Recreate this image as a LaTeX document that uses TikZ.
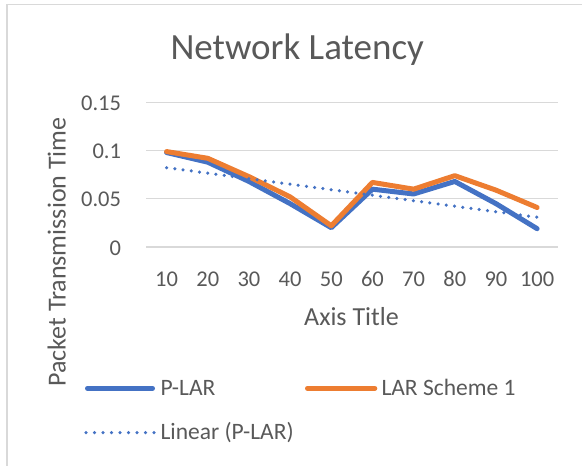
\documentclass[tikz,border=0pt]{standalone}
\usepackage{fontspec}
\setmainfont{Carlito}
\definecolor{labelgray}{HTML}{595959}
\definecolor{gridgray}{HTML}{D9D9D9}
\definecolor{plarblue}{HTML}{4472C4}
\definecolor{larorange}{HTML}{ED7D31}
\begin{document}
\begin{tikzpicture}[x=1pt,y=-1pt,
  txt/.style={text=labelgray, inner sep=0pt, outer sep=0pt},
  gridline/.style={draw=gridgray, line width=1.3pt},
  framel/.style={draw=gridgray},
  pseries/.style={draw=plarblue, line width=5pt, line cap=round, line join=round},
  lseries/.style={draw=larorange, line width=5pt, line cap=round, line join=round},
  trend/.style={draw=plarblue, line width=3.5pt, line cap=round, dash pattern=on 0pt off 8.3pt},
  ticklbl/.style={txt, font=\fontsize{22.5}{27}\selectfont},
  legendlbl/.style={txt, font=\fontsize{23.5}{28}\selectfont},
]
\useasboundingbox (0,0) rectangle (582,466);
\fill[white] (0,0) rectangle (582,466);

% chart frame (left and top edges)
\coordinate (frameTL) at (6.7,4.3);
\coordinate (frameBL) at (6.7,470);
\coordinate (frameTR) at (585,4.3);
\draw[framel, line width=2pt] (frameTL) -- (frameBL);
\draw[framel, line width=1.2pt] (frameTL) -- (frameTR);

% title
\node[txt, font=\fontsize{37}{44}\selectfont, anchor=base] (title) at (297.2,59) {Network Latency};

% horizontal gridlines and value labels
\foreach \v/\lbl [count=\k] in {0/0, 5/0.05, 10/0.1, 15/0.15} {
  \coordinate (gl\k) at (146,{247-9.64*\v});
  \coordinate (gr\k) at (557.7,{247-9.64*\v});
  \draw[gridline] (gl\k) -- (gr\k);
  \node[ticklbl, anchor=base east] (yl\k) at (121,{247-9.64*\v+8}) {\lbl};
}

% category labels
\foreach \lbl [count=\i] in {10,20,30,40,50,60,70,80,90,100} {
  \node[ticklbl, anchor=base] (xl\i) at ({146+41.17*(\i-0.5)},286.7) {\lbl};
}

% axis titles
\node[txt, font=\fontsize{26}{31}\selectfont, anchor=base] (xtitle) at (351.5,325) {Axis Title};
\node[txt, font=\fontsize{26}{31}\selectfont, anchor=base, rotate=90] (ytitle) at (65.5,252) {Packet Transmission Time};

% data series: x in categories, y in hundredths
\begin{scope}[shift={(146,247)}, x=41.17pt, y=9.64pt]
  \foreach \v [count=\i] in {9.8,8.8,6.8,4.5,2.0,6.0,5.5,6.8,4.5,1.9}
    \coordinate (p\i) at (\i-0.5,\v);
  \foreach \v [count=\i] in {9.9,9.2,7.3,5.2,2.2,6.7,6.0,7.4,5.9,4.1}
    \coordinate (l\i) at (\i-0.5,\v);
  \coordinate (t1) at (0.5,8.23);
  \coordinate (t2) at (9.5,3.09);
\end{scope}
\draw[pseries] (p1) -- (p2) -- (p3) -- (p4) -- (p5) -- (p6) -- (p7) -- (p8) -- (p9) -- (p10);
\draw[lseries] (l1) -- (l2) -- (l3) -- (l4) -- (l5) -- (l6) -- (l7) -- (l8) -- (l9) -- (l10);
\draw[trend] (t1) -- (t2);

% legend
\coordinate (lgPa) at (87.5,388.3);
\coordinate (lgPb) at (152.5,388.3);
\draw[pseries] (lgPa) -- (lgPb);
\node[legendlbl, anchor=base west] (lgPtxt) at (160.5,395) {P-LAR};

\coordinate (lgLa) at (307.5,388.3);
\coordinate (lgLb) at (374.8,388.3);
\draw[lseries] (lgLa) -- (lgLb);
\node[legendlbl, anchor=base west] (lgLtxt) at (381.5,395) {LAR Scheme 1};

\coordinate (lgTa) at (86,432.7);
\coordinate (lgTb) at (154.1,432.7);
\draw[trend, dash pattern=on 0pt off 8.5pt] (lgTa) -- (lgTb);
\node[legendlbl, anchor=base west] (lgTtxt) at (160.5,439) {Linear (P-LAR)};
\end{tikzpicture}
\end{document}
